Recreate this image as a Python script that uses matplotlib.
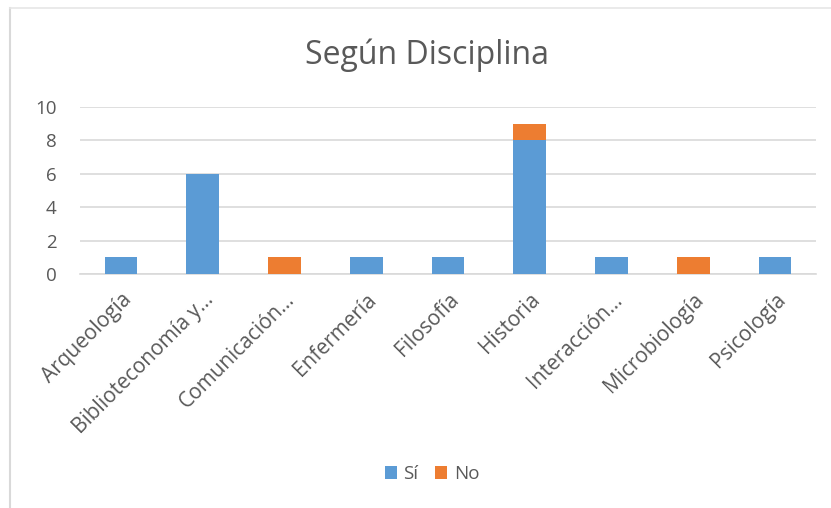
import matplotlib
matplotlib.use("Agg")
import matplotlib.pyplot as plt
from matplotlib.lines import Line2D
from matplotlib.patches import Patch
import numpy as np

categories = ["Arqueología", "Biblioteconomía y...", "Comunicación...", "Enfermería",
              "Filosofía", "Historia", "Interacción...", "Microbiología", "Psicología"]
si_values = [1, 6, 0, 1, 1, 8, 1, 0, 1]
no_values = [0, 0, 1, 0, 0, 1, 0, 1, 0]
series_names = ["Sí", "No"]
yticks = [0, 2, 4, 6, 8, 10]

BLUE = "#5B9BD5"
ORANGE = "#ED7D31"
TXT = "#595959"
GRID = "#D9D9D9"
FONT = "Open Sans"

W, H = 831, 508
fig = plt.figure(figsize=(W / 100, H / 100), dpi=100)
fig.patch.set_facecolor("white")

ax = fig.add_axes([80 / W, 1 - 274 / H, (816 - 80) / W, (274 - 107) / H])
x = np.arange(len(categories))
ax.bar(x, si_values, width=0.4, color=BLUE, zorder=3)
ax.bar(x, no_values, width=0.4, bottom=si_values, color=ORANGE, zorder=3)

ax.set_xlim(-0.5, len(categories) - 0.5)
ax.set_ylim(0, 10)
ax.set_yticks(yticks)
ax.set_yticklabels([str(v) for v in yticks], fontsize=13.5, color=TXT, family=FONT)
ax.yaxis.grid(True, color=GRID, linewidth=1.2, zorder=0)
ax.set_axisbelow(True)
for s in ["top", "right", "left"]:
    ax.spines[s].set_visible(False)
ax.spines["bottom"].set_color(GRID)
ax.spines["bottom"].set_linewidth(1.2)
ax.tick_params(axis="y", length=0, pad=17)
ax.tick_params(axis="x", length=0, pad=11)
ax.set_xticks(x)
ax.set_xticklabels(categories, rotation=45, ha="right", va="top", rotation_mode="anchor",
                   fontsize=15, color=TXT, family=FONT)

fig.text(427 / W, 1 - 55 / H, "Según Disciplina", ha="center", va="center",
         fontsize=23, color=TXT, family=FONT)

handles = [Patch(facecolor=BLUE, edgecolor="none"), Patch(facecolor=ORANGE, edgecolor="none")]
fig.legend(handles, series_names, loc="center", bbox_to_anchor=(432 / W, 1 - 474 / H),
           ncol=2, frameon=False, handlelength=0.65, handleheight=0.65, handletextpad=0.35,
           columnspacing=0.9, prop={"family": FONT, "size": 13.5}, labelcolor=TXT)

# chart border (left and top)
fig.add_artist(Line2D([10 / W, 10 / W], [0, 1 - 8 / H], transform=fig.transFigure,
                      color="#D9D9D9", linewidth=1.5))
fig.add_artist(Line2D([10 / W, 1], [1 - 8 / H, 1 - 8 / H], transform=fig.transFigure,
                      color="#E6E6E6", linewidth=1.2))

fig.savefig("out.png", dpi=100)
